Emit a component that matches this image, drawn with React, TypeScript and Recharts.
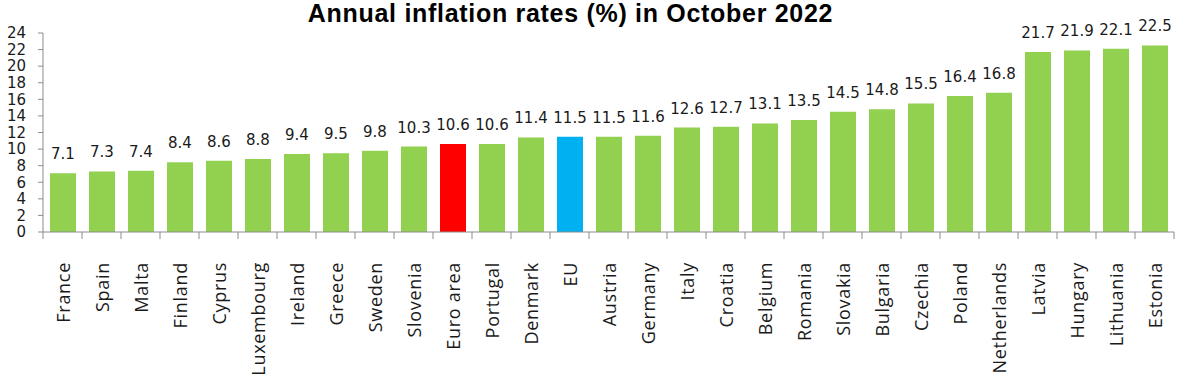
import { BarChart, Bar, XAxis, YAxis, Cell, LabelList } from 'recharts';

const countries = [
  'France', 'Spain', 'Malta', 'Finland', 'Cyprus', 'Luxembourg', 'Ireland', 'Greece',
  'Sweden', 'Slovenia', 'Euro area', 'Portugal', 'Denmark', 'EU', 'Austria', 'Germany',
  'Italy', 'Croatia', 'Belgium', 'Romania', 'Slovakia', 'Bulgaria', 'Czechia', 'Poland',
  'Netherlands', 'Latvia', 'Hungary', 'Lithuania', 'Estonia',
];

const rates = [
  7.1, 7.3, 7.4, 8.4, 8.6, 8.8, 9.4, 9.5,
  9.8, 10.3, 10.6, 10.6, 11.4, 11.5, 11.5, 11.6,
  12.6, 12.7, 13.1, 13.5, 14.5, 14.8, 15.5, 16.4,
  16.8, 21.7, 21.9, 22.1, 22.5,
];

const yTicks = [0, 2, 4, 6, 8, 10, 12, 14, 16, 18, 20, 22, 24];

const COLORS = {
  country: '#92d050',
  euroArea: '#ff0000',
  eu: '#00b0f0',
};

const W = 1181;
const H = 391;
const Y_AXIS_W = 43;
const RIGHT = 7;
const BAND = (W - Y_AXIS_W - RIGHT) / countries.length;

const data = countries.map((name, i) => ({ name, value: rates[i] }));

const barColor = (name: string) =>
  name === 'Euro area' ? COLORS.euroArea : name === 'EU' ? COLORS.eu : COLORS.country;

function CountryTick(props: any) {
  const { x, y, payload, index } = props;
  const left = x - BAND / 2;
  return (
    <g>
      <line x1={left} y1={y} x2={left} y2={y + 7} stroke="#8c8c8c" />
      {index === countries.length - 1 && (
        <line x1={x + BAND / 2} y1={y} x2={x + BAND / 2} y2={y + 7} stroke="#8c8c8c" />
      )}
      <text
        transform={`translate(${x + 7},${y + 30}) rotate(-90)`}
        textAnchor="end"
        fontFamily="'Open Sans', sans-serif"
        fontSize={18}
        letterSpacing={0.7}
        fill="#1a1a1a"
      >
        {payload.value}
      </text>
    </g>
  );
}

export default function App() {
  return (
    <div style={{ position: 'absolute', left: 0, top: 0, width: W, height: H, background: '#fff' }}>
      <div
        style={{
          position: 'absolute',
          left: 0,
          top: 0,
          width: 1141,
          textAlign: 'center',
          fontFamily: "'Liberation Sans', Arial, sans-serif",
          fontWeight: 'bold',
          fontSize: 25,
          letterSpacing: 0.7,
          lineHeight: '27px',
          color: '#000',
        }}
      >
        Annual inflation rates (%) in October 2022
      </div>
      <BarChart
        width={W}
        height={H}
        data={data}
        margin={{ top: 33, right: RIGHT, left: 0, bottom: 0 }}
        barCategoryGap="33%"
      >
        <XAxis
          dataKey="name"
          height={H - 232}
          interval={0}
          tickLine={false}
          tickSize={0}
          tickMargin={0}
          stroke="#8c8c8c"
          tick={<CountryTick />}
        />
        <YAxis
          width={Y_AXIS_W}
          domain={[0, 24]}
          ticks={yTicks}
          interval={0}
          tickSize={5}
          tickMargin={12}
          stroke="#8c8c8c"
          tick={{ fill: '#1a1a1a', fontSize: 15, fontFamily: "'DejaVu Sans', sans-serif" }}
        />
        <Bar dataKey="value" barSize={26} isAnimationActive={false}>
          {data.map((d) => (
            <Cell key={d.name} fill={barColor(d.name)} />
          ))}
          <LabelList
            dataKey="value"
            position="top"
            offset={14}
            fill="#1a1a1a"
            fontSize={15}
            fontFamily="'DejaVu Sans', sans-serif"
            formatter={(v: any) => Number(v).toFixed(1)}
          />
        </Bar>
      </BarChart>
    </div>
  );
}
